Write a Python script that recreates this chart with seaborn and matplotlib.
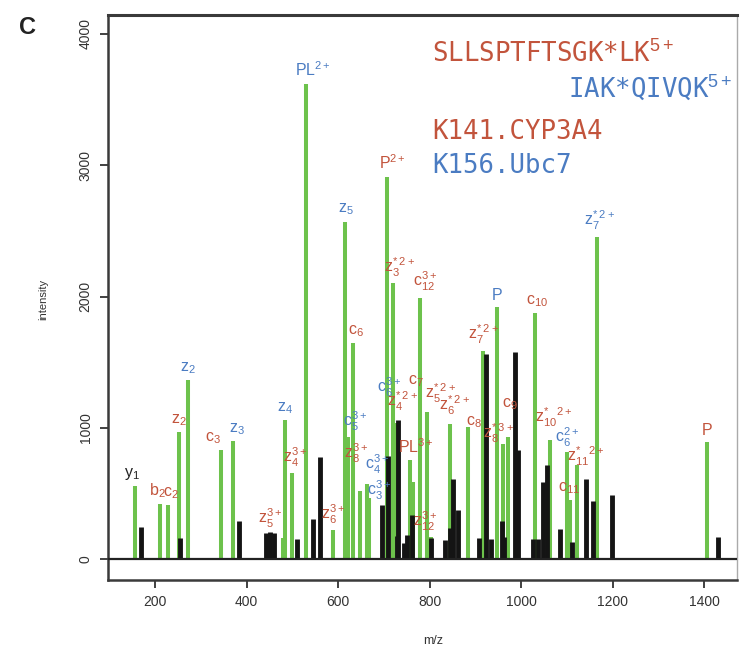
import numpy as np
import pandas as pd
import matplotlib
matplotlib.use("Agg")
import matplotlib.pyplot as plt
import seaborn as sns

# ---------------- data ----------------
green_mz = [156, 211, 228, 252, 272, 344, 370, 452, 480, 484, 499, 530, 589, 615,
            622, 632, 648, 663, 668, 706, 720, 729, 757, 764, 779, 794, 803, 845,
            885, 917, 948, 960, 972, 1031, 1063, 1100, 1107, 1122, 1165, 1407]
green_int = [555, 418, 411, 966, 1361, 829, 897, 190, 160, 1057, 654, 3620, 220, 2570,
             928, 1643, 517, 570, 470, 2912, 2101, 1040, 753, 590, 1992, 1118, 170, 1027,
             1006, 1589, 1919, 880, 930, 1873, 905, 816, 449, 715, 2456, 892]

black_mz = [169, 255, 384, 443, 452, 460, 510, 545, 561, 696, 710, 728, 732, 744, 751,
            762, 803, 834, 845, 852, 863, 908, 923, 934, 958, 963, 987, 994, 1026,
            1038, 1049, 1056, 1084, 1112, 1141, 1157, 1198, 1431]
black_int = [243, 160, 289, 198, 205, 198, 152, 304, 776, 411, 783, 177, 1057, 122, 183,
             335, 160, 145, 236, 610, 378, 160, 1566, 152, 291, 170, 1577, 829, 157,
             157, 588, 720, 233, 132, 613, 441, 487, 170]

# peak annotations: (index into green peaks, text, colour key)
label_peak = [0, 1, 2, 3, 4, 5, 6, 7, 9, 10, 11, 12, 13, 14, 15, 16, 17, 18, 19, 20,
              21, 22, 21, 24, 25, 25, 26, 27, 28, 29, 30, 31, 32, 33, 34, 35, 36, 37,
              38, 39]
label_text = ["y$_1$", "b$_2$", "c$_2$", "z$_2$", "z$_2$", "c$_3$", "z$_3$", "z$_5^{3+}$",
              "z$_4$", "z$_4^{3+}$", "PL$^{2+}$", "z$_6^{3+}$", "z$_5$", "c$_5^{3+}$",
              "c$_6$", "z$_8^{3+}$", "c$_4^{3+}$", "c$_3^{3+}$", "P$^{2+}$",
              "z$^{*}_3$$^{2+}$", "z$^{*}_4$$^{2+}$", "PL$^{3+}$",
              "c$_6^{3+}$", "c$_{12}^{3+}$", "c$_7$", "z$^{*}_5$$^{2+}$",
              "z$_{12}^{3+}$", "z$^{*}_6$$^{2+}$", "c$_8$", "z$^{*}_7$$^{2+}$",
              "P", "z$^{*}_8$$^{3+}$", "c$_9$", "c$_{10}$", "z$^{*}_{10}$$^{2+}$",
              "c$_6^{2+}$", "c$_{11}$", "z$^{*}_{11}$$^{2+}$", "z$^{*}_7$$^{2+}$",
              "P"]
label_color = ["k", "r", "r", "r", "b", "r", "b", "r", "b", "r", "b", "r", "b", "b",
               "r", "r", "b", "b", "r", "r", "r", "r", "b", "r", "r", "r", "r", "r",
               "r", "r", "b", "r", "r", "r", "r", "b", "r", "r", "b", "r"]
# label offsets in points (layout only)
label_dx = [-2, -2, 2, 0, 0, -6, 3, 0, 0, 2, 5, 0, 1, 5, 2, -3, 7, 7, 4, 5,
            4, 4, -6, 4, -8, 10, -4, 3, 4, 0, 0, -3, 1, 1, 3, 0, -1, 6, 2, 0]
label_dy = [0, 0, 0, 0, 0, 0, 0, 0, 0, 0, 0, 0, 0, 0, 0, 16, 3, -6, 0, 0,
            4, 0, 14, 0, 14, 2, 0, 2, -5, 0, 0, -4, 15, 0, 5, -1, 0, -5, 0, 0]

x_ticks = [200, 400, 600, 800, 1000, 1200, 1400]
y_ticks = [0, 1000, 2000, 3000, 4000]

# ---------------- style ----------------
GREEN = "#6dc24c"
BLACK = "#141414"
RED = "#c2543c"
BLUE = "#4b7cc2"
cmap = {"r": RED, "b": BLUE, "k": "#222222"}

sns.set_theme(style="ticks")
plt.rcParams["font.family"] = ["Liberation Sans", "DejaVu Sans"]
plt.rcParams["mathtext.fontset"] = "custom"
plt.rcParams["mathtext.rm"] = "Liberation Sans"
plt.rcParams["mathtext.it"] = "Liberation Sans"
plt.rcParams["mathtext.bf"] = "Liberation Sans:bold"


def stems(mz, inten):
    rows = []
    for i, (m, v) in enumerate(zip(mz, inten)):
        rows.append({"mz": m, "intensity": 0.0, "peak": i})
        rows.append({"mz": m, "intensity": v, "peak": i})
    return pd.DataFrame(rows)


fig = plt.figure(figsize=(7.4, 6.5), dpi=100)
ax = fig.add_axes([108 / 740, 70 / 650, 629 / 740, 565 / 650])

sns.lineplot(data=stems(green_mz, green_int), x="mz", y="intensity", units="peak",
             estimator=None, sort=False, color=GREEN, linewidth=2.9,
             solid_capstyle="butt", ax=ax, zorder=2)
sns.lineplot(data=stems(black_mz, black_int), x="mz", y="intensity", units="peak",
             estimator=None, sort=False, color=BLACK, linewidth=3.5,
             solid_capstyle="butt", ax=ax, zorder=3)

ax.axhline(0, color="#222222", lw=1.6, zorder=4)

for pi, txt, ck, dx, dy in zip(label_peak, label_text, label_color, label_dx, label_dy):
    ax.annotate(txt, xy=(green_mz[pi], green_int[pi]), xytext=(dx, 3 + dy),
                textcoords="offset points", ha="center", va="bottom",
                fontsize=11.5, color=cmap[ck], zorder=5)

ax.set_xlim(97, 1472)
ax.set_ylim(-157, 4142)
ax.set_xticks(x_ticks)
ax.set_yticks(y_ticks)
ax.set_xticklabels([str(t) for t in x_ticks])
ax.set_yticklabels([str(t) for t in y_ticks], rotation=90, va="center")
ax.tick_params(axis="both", direction="out", length=6, width=1.3, colors="#333333",
               labelsize=10, pad=5)
ax.tick_params(axis="y", pad=5)

for s in ["left", "bottom", "top"]:
    ax.spines[s].set_color("#3a3a3a")
    ax.spines[s].set_linewidth(1.8)
ax.spines["top"].set_linewidth(2.2)
ax.spines["right"].set_color("#aaaaaa")
ax.spines["right"].set_linewidth(1.0)

ax.set_xlabel("m/z", fontsize=9, color="#333333")
ax.set_ylabel("intensity", fontsize=8, color="#333333")
ax.xaxis.set_label_coords(0.517, -0.097)
ax.yaxis.set_label_coords(-0.095, 0.496)

mono = "DejaVu Sans Mono"
fig.text(432 / 740, 1 - 63 / 650, "SLLSPTFTSGK*LK$^{5+}$", family=mono, fontsize=18.5,
         color=RED, va="baseline", ha="left")
fig.text(568 / 740, 1 - 97 / 650, "IAK*QIVQK$^{5+}$", family=mono, fontsize=18.5,
         color=BLUE, va="baseline", ha="left")
fig.text(432 / 740, 1 - 139 / 650, "K141.CYP3A4", family=mono, fontsize=18.5,
         color=RED, va="baseline", ha="left")
fig.text(432 / 740, 1 - 173 / 650, "K156.Ubc7", family=mono, fontsize=18.5,
         color=BLUE, va="baseline", ha="left")

fig.text(28 / 740, 1 - 28 / 650, "C", fontsize=17, fontweight="bold", color="#222222",
         ha="center", va="center")

fig.savefig("out.png", dpi=100)
